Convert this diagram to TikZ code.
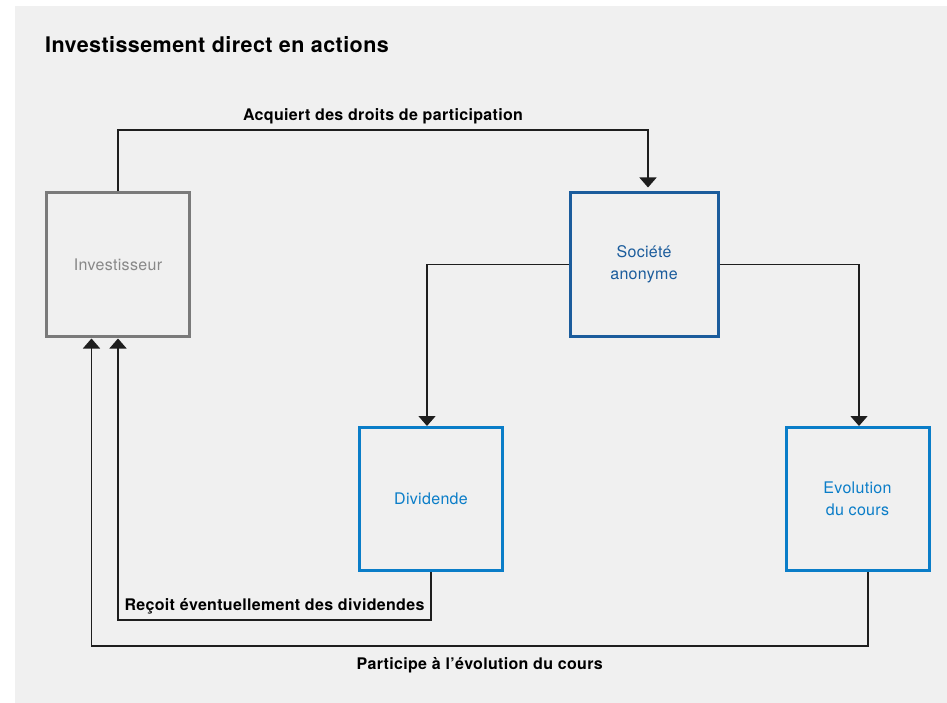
\documentclass[tikz,border=0pt]{standalone}
\usepackage{fontspec}
\setmainfont[LetterSpace=2]{TeX Gyre Heros}
\usepackage{tikz}
\usetikzlibrary{arrows.meta}
\definecolor{bggray}{HTML}{F0F0F0}
\definecolor{invgray}{HTML}{7A7A7A}
\definecolor{invtext}{HTML}{888888}
\definecolor{socblue}{HTML}{1B5C9C}
\definecolor{lightblue}{HTML}{0A7DC8}
\definecolor{linkblack}{HTML}{1E1E1E}
\begin{document}
\begin{tikzpicture}[x=1pt, y=-1pt,
	box/.style={draw, line width=3pt, minimum width=143pt, minimum height=143pt, align=center, font=\fontsize{16}{21.5}\selectfont},
	link/.style={draw=linkblack, line width=1.4pt},
	tip/.style={-{Triangle[width=17pt,length=10pt]}},
	lbl/.style={font=\bfseries\fontsize{16}{19}\selectfont, text=black, inner sep=5pt}]
		\useasboundingbox[fill=white] (0,0) rectangle (947,703);
		\fill[bggray] (15,6) rectangle (947,703);
		\node[anchor=base west, inner sep=0pt, font=\bfseries\fontsize{21.5}{26}\selectfont] (title) at (45,53) {Investissement direct en actions};
		\node[box, draw=invgray, text=invtext] (inv) at (118,264.5) {Investisseur};
		\node[box, draw=socblue, text=socblue, minimum width=148pt] (soc) at (644,264.5) {Société\\anonyme};
		\node[box, draw=lightblue, text=lightblue] (div) at (431,499) {Dividende};
		\node[box, draw=lightblue, text=lightblue] (evo) at (857.5,499) {Evolution\\du cours};
		\coordinate (A1) at (118,130);
		\coordinate (A2) at (648,130);
		\coordinate (B1) at (431,620);
		\coordinate (B2) at (118,620);
		\coordinate (C1) at (868,646);
		\coordinate (C2) at (91.5,646);
		\draw[link, tip, shorten >=4pt] (inv.north) -- (A1) -- node[lbl, above]{Acquiert des droits de participation} (A2) -- (A2 |- soc.north);
		\draw[link, tip] (soc.west) -| ([xshift=-4pt]div.north);
		\draw[link, tip] (soc.east) -| ([xshift=1.5pt]evo.north);
		\draw[link, tip, shorten >=1pt] (div.south) -- (B1) -- node[lbl, above]{Reçoit éventuellement des dividendes} (B2) -- (inv.south);
		\draw[link, tip, shorten >=1pt] ([xshift=10.5pt]evo.south) -- (C1) -- node[lbl, below, yshift=-6pt]{Participe à l’évolution du cours} (C2) -- (C2 |- inv.south);
\end{tikzpicture}
\end{document}
